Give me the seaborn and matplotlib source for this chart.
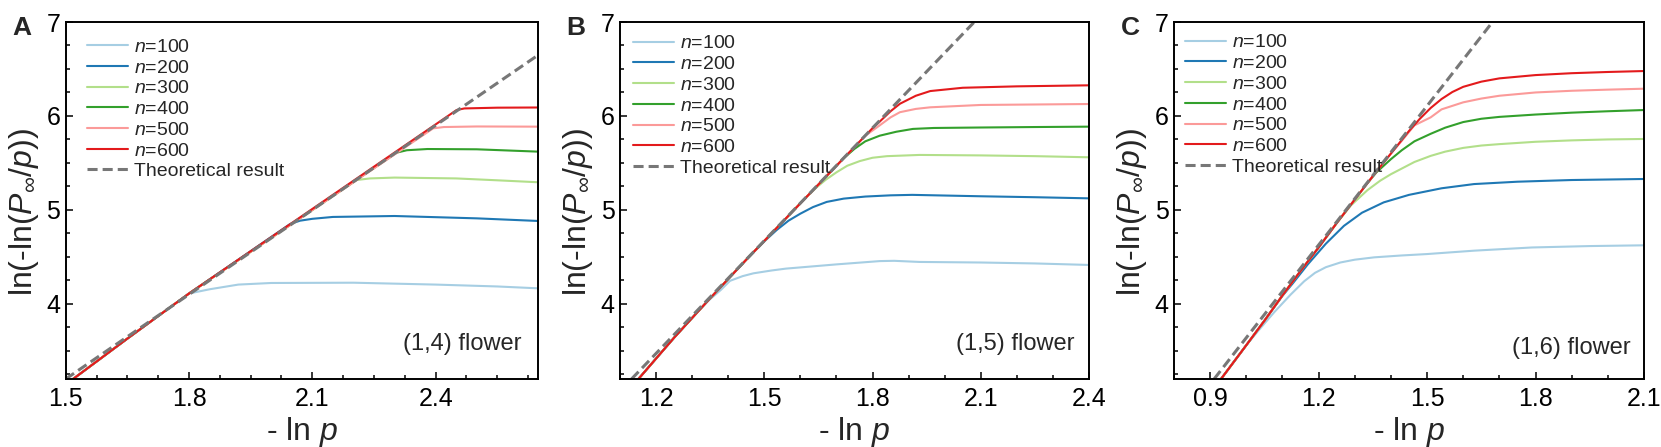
import matplotlib
matplotlib.use("Agg")
import matplotlib.pyplot as plt
import seaborn as sns
import pandas as pd
from matplotlib.ticker import MultipleLocator, FormatStrFormatter
from matplotlib.lines import Line2D

# ---------------- data ----------------
N_LABELS = ["100", "200", "300", "400", "500", "600"]
THEORY_LABEL = "Theoretical result"
PANEL_LETTERS = ["A", "B", "C"]
PANEL_NOTES = ["(1,4) flower", "(1,5) flower", "(1,6) flower"]

# Panel A: (1,4) flower
A_N100 = [(1.518, 3.20), (1.65, 3.63), (1.80, 4.11), (1.85, 4.155), (1.92, 4.205), (2.00, 4.222),
          (2.20, 4.225), (2.40, 4.205), (2.55, 4.185), (2.65, 4.165)]
A_N200 = [(1.518, 3.20), (1.65, 3.63), (1.80, 4.11), (2.046, 4.85), (2.07, 4.885), (2.10, 4.905),
          (2.15, 4.925), (2.30, 4.935), (2.50, 4.91), (2.65, 4.882)]
A_N300 = [(1.518, 3.20), (1.65, 3.63), (1.80, 4.11), (2.208, 5.318), (2.24, 5.335), (2.30, 5.344),
          (2.45, 5.335), (2.55, 5.315), (2.65, 5.294)]
A_N400 = [(1.518, 3.20), (1.65, 3.63), (1.80, 4.11), (2.305, 5.609), (2.33, 5.635), (2.38, 5.648),
          (2.50, 5.645), (2.65, 5.62)]
A_N500 = [(1.518, 3.20), (1.65, 3.63), (1.80, 4.11), (2.394, 5.868), (2.42, 5.882), (2.50, 5.888),
          (2.65, 5.886)]
A_N600 = [(1.518, 3.20), (1.65, 3.63), (1.80, 4.11), (2.451, 6.063), (2.47, 6.08), (2.55, 6.088),
          (2.65, 6.09)]
A_THEORY = [(1.50, 3.20), (2.65, 6.65)]

# Panel B: (1,5) flower
B_N100 = [(1.151, 3.20), (1.25, 3.64), (1.32, 3.94), (1.35, 4.05), (1.38, 4.15), (1.405, 4.245),
          (1.44, 4.295), (1.47, 4.325), (1.52, 4.355), (1.56, 4.375), (1.70, 4.42), (1.82, 4.455),
          (1.86, 4.458), (1.93, 4.446), (2.10, 4.44), (2.25, 4.43), (2.40, 4.414)]
B_N200 = [(1.151, 3.20), (1.25, 3.64), (1.35, 4.06), (1.45, 4.47), (1.50, 4.665), (1.534, 4.785),
          (1.567, 4.885), (1.60, 4.96), (1.635, 5.03), (1.673, 5.085), (1.72, 5.12), (1.78, 5.142),
          (1.85, 5.155), (1.91, 5.16), (2.10, 5.145), (2.25, 5.135), (2.40, 5.123)]
B_N300 = [(1.151, 3.20), (1.25, 3.64), (1.35, 4.06), (1.45, 4.47), (1.55, 4.87), (1.62, 5.15),
          (1.645, 5.24), (1.67, 5.32), (1.70, 5.40), (1.73, 5.47), (1.765, 5.52), (1.80, 5.555),
          (1.84, 5.572), (1.93, 5.585), (2.10, 5.58), (2.25, 5.572), (2.40, 5.56)]
B_N400 = [(1.151, 3.20), (1.25, 3.64), (1.35, 4.06), (1.45, 4.47), (1.55, 4.87), (1.65, 5.27),
          (1.72, 5.55), (1.75, 5.65), (1.78, 5.73), (1.82, 5.79), (1.866, 5.832), (1.912, 5.862),
          (1.97, 5.872), (2.10, 5.877), (2.25, 5.882), (2.40, 5.886)]
B_N500 = [(1.151, 3.20), (1.25, 3.64), (1.35, 4.06), (1.45, 4.47), (1.55, 4.87), (1.65, 5.27),
          (1.75, 5.67), (1.78, 5.79), (1.82, 5.90), (1.85, 5.985), (1.876, 6.04), (1.92, 6.075),
          (1.96, 6.092), (2.10, 6.117), (2.25, 6.122), (2.40, 6.127)]
B_N600 = [(1.151, 3.20), (1.25, 3.64), (1.35, 4.06), (1.45, 4.47), (1.55, 4.87), (1.65, 5.27),
          (1.75, 5.67), (1.80, 5.87), (1.82, 5.94), (1.85, 6.05), (1.876, 6.13), (1.92, 6.215),
          (1.96, 6.265), (2.05, 6.30), (2.20, 6.315), (2.40, 6.326)]
B_THEORY = [(1.132, 3.20), (2.082, 7.00)]

# Panel C: (1,6) flower
C_N100 = [(0.93, 3.20), (1.00, 3.56), (1.04, 3.745), (1.077, 3.91), (1.123, 4.10), (1.16, 4.24),
          (1.19, 4.33), (1.22, 4.39), (1.26, 4.44), (1.30, 4.47), (1.354, 4.495), (1.43, 4.515),
          (1.50, 4.53), (1.63, 4.566), (1.79, 4.60), (1.95, 4.615), (2.10, 4.623)]
C_N200 = [(0.93, 3.20), (1.00, 3.56), (1.05, 3.82), (1.10, 4.085), (1.13, 4.225), (1.17, 4.42),
          (1.22, 4.64), (1.27, 4.83), (1.32, 4.97), (1.38, 5.08), (1.45, 5.16), (1.54, 5.23),
          (1.63, 5.275), (1.75, 5.30), (1.90, 5.318), (2.10, 5.329)]
C_N300 = [(0.93, 3.20), (1.00, 3.56), (1.05, 3.82), (1.10, 4.09), (1.15, 4.35), (1.20, 4.60),
          (1.25, 4.86), (1.29, 5.05), (1.335, 5.21), (1.37, 5.31), (1.40, 5.38), (1.465, 5.51),
          (1.51, 5.575), (1.55, 5.62), (1.60, 5.66), (1.65, 5.685), (1.70, 5.70), (1.80, 5.725),
          (1.90, 5.74), (2.00, 5.75), (2.10, 5.755)]
C_N400 = [(0.93, 3.20), (1.00, 3.56), (1.05, 3.82), (1.10, 4.09), (1.15, 4.35), (1.20, 4.60),
          (1.25, 4.86), (1.30, 5.11), (1.33, 5.26), (1.36, 5.40), (1.40, 5.54), (1.43, 5.635),
          (1.465, 5.73), (1.51, 5.81), (1.55, 5.875), (1.60, 5.935), (1.65, 5.97), (1.70, 5.99),
          (1.80, 6.015), (1.90, 6.035), (2.00, 6.05), (2.10, 6.063)]
C_N500 = [(0.93, 3.20), (1.00, 3.56), (1.05, 3.82), (1.10, 4.09), (1.15, 4.35), (1.20, 4.60),
          (1.25, 4.86), (1.30, 5.11), (1.35, 5.36), (1.40, 5.60), (1.43, 5.735), (1.465, 5.90),
          (1.51, 5.985), (1.54, 6.07), (1.60, 6.145), (1.65, 6.185), (1.70, 6.215), (1.80, 6.25),
          (1.90, 6.268), (2.00, 6.28), (2.10, 6.29)]
C_N600 = [(0.93, 3.20), (1.00, 3.56), (1.05, 3.82), (1.10, 4.09), (1.15, 4.35), (1.20, 4.60),
          (1.25, 4.86), (1.30, 5.11), (1.35, 5.36), (1.40, 5.60), (1.45, 5.84), (1.48, 5.97),
          (1.51, 6.085), (1.54, 6.18), (1.57, 6.255), (1.60, 6.31), (1.65, 6.365), (1.70, 6.40),
          (1.80, 6.435), (1.90, 6.455), (2.00, 6.468), (2.10, 6.478)]
C_THEORY = [(0.911, 3.20), (1.681, 7.00)]

PANEL_SERIES = [
    [A_N100, A_N200, A_N300, A_N400, A_N500, A_N600],
    [B_N100, B_N200, B_N300, B_N400, B_N500, B_N600],
    [C_N100, C_N200, C_N300, C_N400, C_N500, C_N600],
]
PANEL_THEORY = [A_THEORY, B_THEORY, C_THEORY]
X_LIMITS = [(1.5, 2.65), (1.1, 2.4), (0.8, 2.1)]
X_TICKS = [[1.5, 1.8, 2.1, 2.4], [1.2, 1.5, 1.8, 2.1, 2.4], [0.9, 1.2, 1.5, 1.8, 2.1]]
X_MINOR = [0.075, 0.1, 0.1]
Y_LIMITS = (3.2, 7.0)
Y_TICKS = [4, 5, 6, 7]

# ---------------- style ----------------
sns.set_theme(style="ticks")
plt.rcParams["font.family"] = ["Liberation Sans", "DejaVu Sans"]
plt.rcParams["mathtext.fontset"] = "custom"
plt.rcParams["mathtext.rm"] = "Liberation Sans"
plt.rcParams["mathtext.it"] = "Liberation Sans:italic"
plt.rcParams["mathtext.bf"] = "Liberation Sans:bold"

colors = sns.color_palette("Paired", 6)
theory_color = "#777777"

W, H = 1661, 447
fig = plt.figure(figsize=(W / 100, H / 100), dpi=100)

ax_px = [(65.7, 538.4), (620.0, 1089.0), (1174.0, 1644.0)]
top_px, bot_px = 22.0, 379.0
legend_off = [(21.0, 49.0), (13.3, 45.5), (11.0, 44.5)]  # handle start x offset, first row center y
note_pos = [(17, 350), (15, 350), (13, 354)]  # right inset, baseline y

ylabel = "ln(-ln(" + r"$\mathit{P}_{\infty}$" + "/" + r"$\mathit{p}$" + "))"
xlabel = "- ln " + r"$\mathit{p}$"

TICK_FS = 18
LABEL_FS = 23
LEG_FS = 14

for i in range(3):
    l, r = ax_px[i]
    ax = fig.add_axes([l / W, (H - bot_px) / H, (r - l) / W, (bot_px - top_px) / H])
    wpx = r - l
    hpx = bot_px - top_px

    for j, series in enumerate(PANEL_SERIES[i]):
        df = pd.DataFrame(series, columns=["x", "y"])
        sns.lineplot(data=df, x="x", y="y", sort=False, estimator=None, ax=ax,
                     color=colors[j], linewidth=1.5, legend=False)
    dft = pd.DataFrame(PANEL_THEORY[i], columns=["x", "y"])
    sns.lineplot(data=dft, x="x", y="y", sort=False, estimator=None, ax=ax,
                 color=theory_color, linewidth=2.2, linestyle=(0, (3.3, 1.65)), legend=False)

    ax.set_xlim(*X_LIMITS[i])
    ax.set_ylim(*Y_LIMITS)
    ax.set_xticks(X_TICKS[i])
    ax.set_yticks(Y_TICKS)
    ax.xaxis.set_minor_locator(MultipleLocator(X_MINOR[i]))
    ax.yaxis.set_minor_locator(MultipleLocator(0.25))
    ax.xaxis.set_major_formatter(FormatStrFormatter("%.1f"))
    ax.yaxis.set_major_formatter(FormatStrFormatter("%d"))
    ax.tick_params(which="both", direction="in", top=False, right=False, width=1.1, colors="black")
    ax.tick_params(which="major", length=4.8, labelsize=TICK_FS)
    ax.tick_params(which="minor", length=2.6)
    ax.tick_params(axis="x", which="major", pad=5.5)
    ax.tick_params(axis="y", which="major", pad=4)
    for sp in ax.spines.values():
        sp.set_linewidth(1.4)
        sp.set_color("black")
        sp.set_visible(True)

    ax.set_xlabel(xlabel, fontsize=LABEL_FS)
    ax.set_ylabel(ylabel, fontsize=LABEL_FS)
    ax.xaxis.set_label_coords(0.5, -(440 - bot_px) / hpx)
    ax.xaxis.label.set_verticalalignment("baseline")
    ax.yaxis.set_label_coords(-42 / wpx, (bot_px - 212) / hpx)
    ax.yaxis.label.set_verticalalignment("center")

    handles = [Line2D([], [], color=colors[j], linewidth=1.5) for j in range(6)]
    handles.append(Line2D([], [], color=theory_color, linewidth=2.2, linestyle=(0, (3.3, 1.65))))
    labels = [r"$\mathit{n}$=" + s for s in N_LABELS] + [THEORY_LABEL]
    fs_px = LEG_FS * 100 / 72
    lx, ly = legend_off[i]
    top_y = ly - 0.55 * fs_px - top_px
    ax.legend(handles, labels, loc="upper left",
              bbox_to_anchor=(lx / wpx, 1 - top_y / hpx), bbox_transform=ax.transAxes,
              frameon=False, borderaxespad=0, borderpad=0, handlelength=2.1,
              handletextpad=0.32, labelspacing=0.16, fontsize=LEG_FS)

    ri, bl = note_pos[i]
    ax.text(1 - ri / wpx, (bot_px - bl) / hpx, PANEL_NOTES[i], transform=ax.transAxes,
            ha="right", va="baseline", fontsize=17)

    fig.text((l - 44) / W, (H - top_px - 6) / H, PANEL_LETTERS[i], ha="center", va="center",
             fontsize=19, fontweight="bold")

fig.savefig("out.png", dpi=100)
